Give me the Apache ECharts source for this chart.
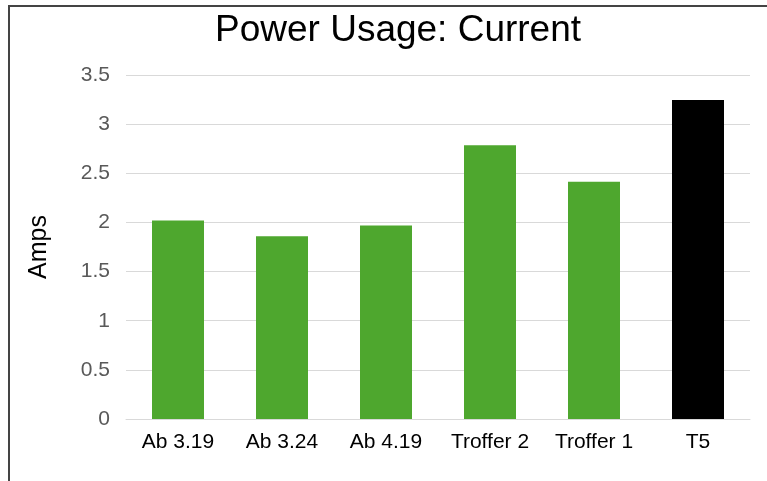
<!DOCTYPE html>
<html>
<head>
<meta charset="utf-8">
<script src="https://cdn.jsdelivr.net/npm/echarts@6/dist/echarts.min.js"></script>
<style>
  html, body { margin: 0; padding: 0; background: #fff; }
  #chart { width: 767px; height: 481px; }
</style>
</head>
<body>
<div id="chart"></div>
<script>
// 数据
const categories = ['Ab 3.19', 'Ab 3.24', 'Ab 4.19', 'Troffer 2', 'Troffer 1', 'T5'];
const amps = [2.02, 1.86, 1.97, 2.785, 2.415, 3.245];
const barColors = ['#4ea72e', '#4ea72e', '#4ea72e', '#4ea72e', '#4ea72e', '#000000'];

const chart = echarts.init(document.getElementById('chart'));

chart.setOption({
    backgroundColor: '#ffffff',
    textStyle: { fontFamily: 'Liberation Sans, Arial, sans-serif' },
    animation: false,
    title: {
        text: 'Power Usage: Current',
        left: 210,
        top: 7,
        textStyle: { fontSize: 37, fontWeight: 'normal', color: '#000' }
    },
    grid: { left: 126, right: 17, top: 75, bottom: 62 },
    xAxis: {
        type: 'category',
        data: categories,
        axisTick: { show: false },
        axisLine: { lineStyle: { color: '#d9d9d9', width: 1 } },
        axisLabel: { color: '#000', fontSize: 21, margin: 13, interval: 0, hideOverlap: false }
    },
    yAxis: {
        type: 'value',
        min: 0, max: 3.5, interval: 0.5,
        name: 'Amps',
        nameLocation: 'middle',
        nameGap: 74,
        nameTextStyle: { fontSize: 25, color: '#000' },
        axisLine: { show: false },
        axisTick: { show: false },
        axisLabel: { color: '#595959', fontSize: 21, margin: 16 },
        splitLine: { lineStyle: { color: '#d9d9d9', width: 1 } }
    },
    series: [{
        type: 'bar',
        barWidth: '50%',
        data: amps.map((v, i) => ({ value: v, itemStyle: { color: barColors[i] } }))
    }],
    graphic: [
        // 外框（上、左两条线）
        { type: 'line', shape: { x1: 8, y1: 6, x2: 767, y2: 6 }, style: { stroke: '#444', lineWidth: 2 } },
        { type: 'line', shape: { x1: 9, y1: 5, x2: 9, y2: 481 }, style: { stroke: '#444', lineWidth: 2 } }
    ]
});
</script>
</body>
</html>
